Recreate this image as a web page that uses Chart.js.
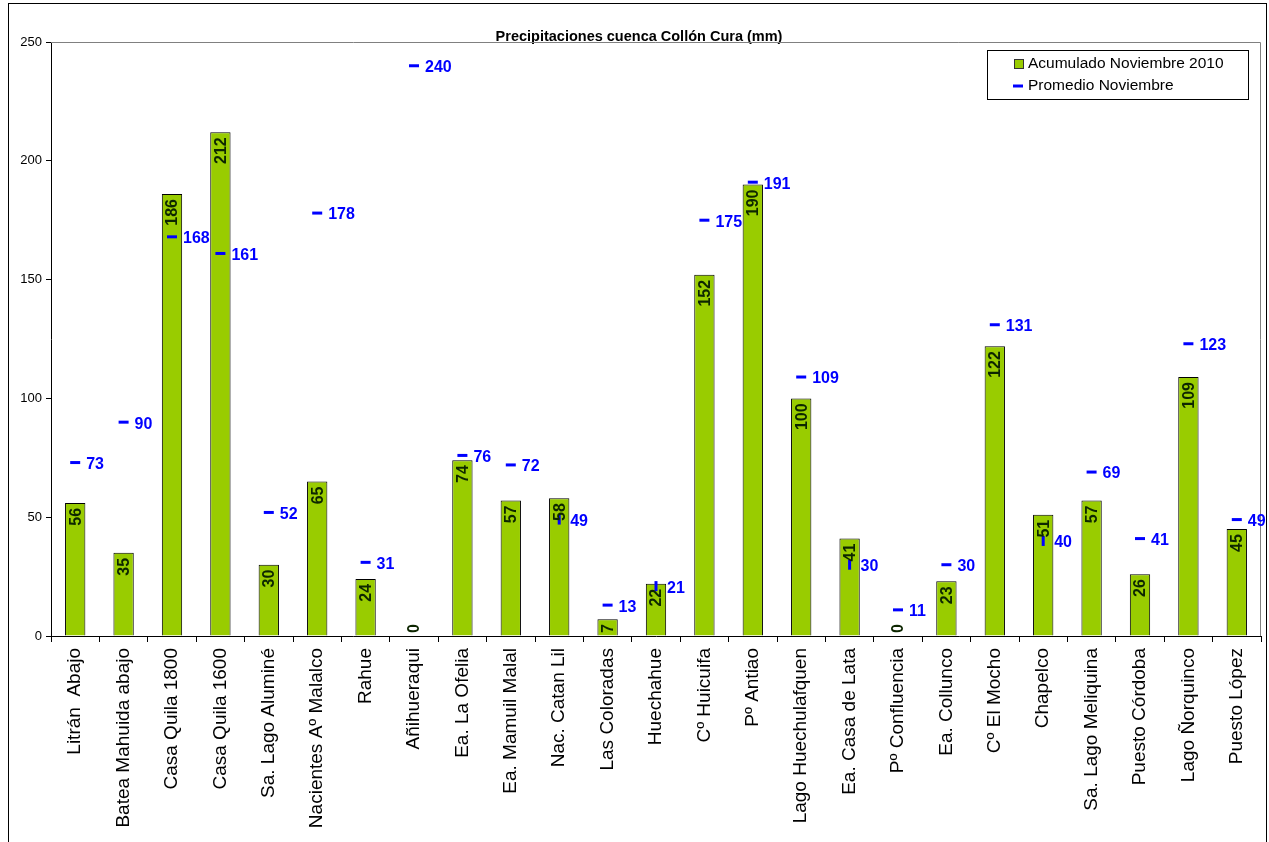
<!DOCTYPE html>
<html>
<head>
<meta charset="utf-8">
<title>Precipitaciones cuenca Collón Cura</title>
<script src="https://cdn.jsdelivr.net/npm/chart.js@4.4.1/dist/chart.umd.min.js"></script>
<style>
    html, body { margin: 0; padding: 0; background: #fff; }
    #wrap { width: 1269px; height: 842px; }
</style>
</head>
<body>
<div id="wrap"><canvas id="chartCanvas" width="1269" height="842"></canvas></div>
<script>
/* ----------------------------------------
   DATA
---------------------------------------- */
const estaciones = [
    "Litrán  Abajo", "Batea Mahuida abajo", "Casa Quila 1800", "Casa Quila 1600",
    "Sa. Lago Aluminé", "Nacientes Aº Malalco", "Rahue", "Añihueraqui",
    "Ea. La Ofelia", "Ea. Mamuil Malal", "Nac. Catan Lil", "Las Coloradas",
    "Huechahue", "Cº Huicuifa", "Pº Antiao", "Lago Huechulafquen",
    "Ea. Casa de Lata", "Pº Confluencia", "Ea. Collunco", "Cº El Mocho",
    "Chapelco", "Sa. Lago Meliquina", "Puesto Córdoba", "Lago Ñorquinco", "Puesto López"
];
const acumulado2010 = [56, 35, 186, 212, 30, 65, 24, 0, 74, 57, 58, 7, 22, 152, 190, 100, 41, 0, 23, 122, 51, 57, 26, 109, 45];
const promedio = [73, 90, 168, 161, 52, 178, 31, 240, 76, 72, 49, 13, 21, 175, 191, 109, 30, 11, 30, 131, 40, 69, 41, 123, 49];
const yTicks = [0, 50, 100, 150, 200, 250];

const FONT = "'Liberation Sans', Arial, sans-serif";
const GREEN = "#99cc00";
const BLUE = "#0000ff";
const TITLE = "Precipitaciones cuenca Collón Cura (mm)";

// dash markers that run into a bar label are drawn upright
const uprightMarkers = [10, 12, 16, 20];
const markerRotation = promedio.map((v, i) => (uprightMarkers.includes(i) ? 90 : 0));

/* ----------------------------------------
   PLUGIN: frame, title, plot border, value labels, legend
---------------------------------------- */
const decorPlugin = {
    id: "decor",
    beforeDraw(chart) {
        const ctx = chart.ctx;
        ctx.save();
        ctx.fillStyle = "#fff";
        ctx.fillRect(0, 0, chart.width, chart.height);
        ctx.strokeStyle = "#000";
        ctx.lineWidth = 1;
        ctx.strokeRect(8.5, 3.5, 1258, 860);

        ctx.fillStyle = "#000";
        ctx.font = "bold 14.5px " + FONT;
        ctx.textAlign = "center";
        ctx.textBaseline = "alphabetic";
        ctx.fillText(TITLE, 639, 41);
        ctx.restore();
    },
    beforeDatasetsDraw(chart) {
        // gray top and right edge of the plot area
        const { ctx, chartArea: a } = chart;
        ctx.save();
        ctx.strokeStyle = "#808080";
        ctx.lineWidth = 1;
        ctx.beginPath();
        ctx.moveTo(a.left, a.top + 0.5);
        ctx.lineTo(a.right - 0.5, a.top + 0.5);
        ctx.lineTo(a.right - 0.5, a.bottom);
        ctx.stroke();
        ctx.restore();
    },
    afterDatasetsDraw(chart) {
        const ctx = chart.ctx;
        const base = chart.scales.y.getPixelForValue(0);

        // rotated labels inside the bars
        const barMeta = chart.getDatasetMeta(0);
        ctx.save();
        ctx.font = "bold 16px " + FONT;
        ctx.fillStyle = "#0d2600";
        ctx.textBaseline = "middle";
        ctx.textAlign = "left";
        barMeta.data.forEach((bar, i) => {
            const txt = String(acumulado2010[i]);
            const w = ctx.measureText(txt).width;
            let yBottom = bar.y + 5 + w;
            if (yBottom > base - 3) yBottom = base - 3;
            ctx.save();
            ctx.translate(bar.x + 1, yBottom);
            ctx.rotate(-Math.PI / 2);
            ctx.fillText(txt, 0, 0);
            ctx.restore();
        });
        ctx.restore();

        // labels beside the average markers
        const lineMeta = chart.getDatasetMeta(1);
        ctx.save();
        ctx.font = "bold 16px " + FONT;
        ctx.fillStyle = BLUE;
        ctx.textBaseline = "middle";
        ctx.textAlign = "left";
        lineMeta.data.forEach((pt, i) => {
            ctx.fillText(String(promedio[i]), pt.x + 11, pt.y + 2);
        });
        ctx.restore();
    },
    afterDraw(chart) {
        // legend box
        const ctx = chart.ctx;
        const ds = chart.data.datasets;
        ctx.save();
        ctx.fillStyle = "#fff";
        ctx.fillRect(987, 50, 261, 49);
        ctx.strokeStyle = "#000";
        ctx.lineWidth = 1;
        ctx.strokeRect(987.5, 50.5, 261, 49);

        ctx.fillStyle = ds[0].backgroundColor;
        ctx.fillRect(1014, 59, 10, 10);
        ctx.strokeStyle = "#333";
        ctx.strokeRect(1014.5, 59.5, 9, 9);

        ctx.strokeStyle = ds[1].borderColor;
        ctx.lineWidth = 3;
        ctx.beginPath();
        ctx.moveTo(1013, 86);
        ctx.lineTo(1023, 86);
        ctx.stroke();

        ctx.fillStyle = "#000";
        ctx.font = "15.5px " + FONT;
        ctx.textBaseline = "middle";
        ctx.fillText(ds[0].label, 1028, 64);
        ctx.fillText(ds[1].label, 1028, 86);
        ctx.restore();
    }
};

/* ----------------------------------------
   CHART
---------------------------------------- */
const ctx = document.getElementById("chartCanvas").getContext("2d");

new Chart(ctx, {
    type: "bar",
    data: {
        labels: estaciones,
        datasets: [
            {
                label: "Acumulado Noviembre 2010",
                data: acumulado2010,
                backgroundColor: GREEN,
                borderColor: "#000",
                borderWidth: 1,
                categoryPercentage: 1,
                barPercentage: 0.42,
                order: 2
            },
            {
                type: "line",
                label: "Promedio Noviembre",
                data: promedio,
                showLine: false,
                borderColor: BLUE,
                backgroundColor: BLUE,
                pointStyle: "line",
                pointRadius: 5,
                pointBorderWidth: 3,
                pointHoverRadius: 5,
                pointRotation: markerRotation,
                order: 1
            }
        ]
    },
    options: {
        responsive: false,
        animation: false,
        events: [],
        layout: { padding: { top: 42, left: 0, right: 7, bottom: 0 } },
        plugins: {
            legend: { display: false },
            tooltip: { enabled: false },
            title: { display: false }
        },
        scales: {
            x: {
                afterFit(axis) { axis.height = 206; },
                grid: {
                    display: true,
                    offset: true,
                    drawOnChartArea: false,
                    drawTicks: true,
                    tickLength: 6,
                    color: "#000"
                },
                border: { display: true, color: "#000", width: 1 },
                ticks: {
                    color: "#000",
                    autoSkip: false,
                    minRotation: 90,
                    maxRotation: 90,
                    padding: 6,
                    font: { family: FONT, size: 19 }
                }
            },
            y: {
                min: 0,
                max: 250,
                afterFit(axis) { axis.width = 51; },
                afterBuildTicks(axis) { axis.ticks = yTicks.map(v => ({ value: v })); },
                grid: {
                    display: true,
                    drawOnChartArea: false,
                    drawTicks: true,
                    tickLength: 5,
                    color: "#000"
                },
                border: { display: true, color: "#000", width: 1 },
                ticks: {
                    color: "#000",
                    padding: 4,
                    font: { family: FONT, size: 13 }
                }
            }
        }
    },
    plugins: [decorPlugin]
});
</script>
</body>
</html>
